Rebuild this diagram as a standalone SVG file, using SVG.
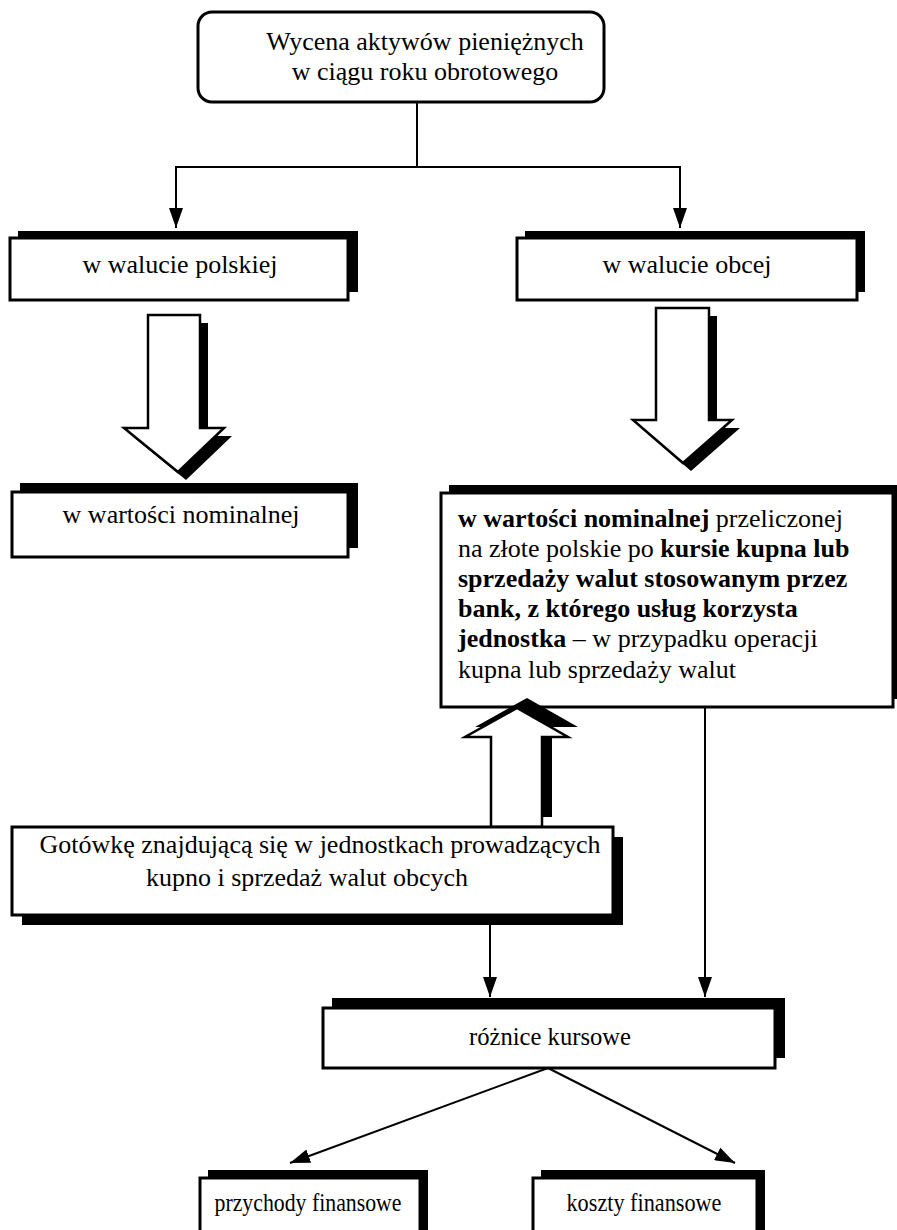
<svg xmlns="http://www.w3.org/2000/svg" width="897" height="1230" viewBox="0 0 897 1230">
  <style>
    .box { fill: #fff; stroke: #000; stroke-width: 3; }
    .shadow { fill: #000; stroke: none; }
    .blk { fill: #fff; stroke: #000; stroke-width: 2.5; stroke-linejoin: miter; }
    .line { fill: none; stroke: #000; stroke-width: 2; }
    text { font-family: "Liberation Serif", "Times New Roman", serif; font-size: 26px; fill: #000; }
    .c { text-anchor: middle; }
    .b { font-weight: bold; }
  </style>
  <defs>
    <marker id="tip" markerUnits="userSpaceOnUse" markerWidth="20" markerHeight="14" viewBox="0 0 20 14" refX="20" refY="7" orient="auto">
      <path d="M0,0 L20,7 L0,14 Z" fill="#000"/>
    </marker>
  </defs>

  <!-- connectors -->
  <g id="connectors">
    <path class="line" d="M417,102 V167 M175,167 H681"/>
    <path class="line" d="M176,167 V228" marker-end="url(#tip)"/>
    <path class="line" d="M680,167 V228" marker-end="url(#tip)"/>
    <path class="line" d="M490,925 V997" marker-end="url(#tip)"/>
    <path class="line" d="M705,707 V997" marker-end="url(#tip)"/>
    <path class="line" d="M548,1068 L290,1163" marker-end="url(#tip)"/>
    <path class="line" d="M548,1068 L735,1163" marker-end="url(#tip)"/>
  </g>

  <!-- root node -->
  <g id="n-wycena">
    <rect class="box" x="198" y="12" width="406" height="90" rx="14"/>
    <text class="c" x="425" y="50">Wycena aktywów pieniężnych</text>
    <text class="c" x="425" y="80">w ciągu roku obrotowego</text>
  </g>

  <g id="n-polska">
    <rect class="shadow" x="18" y="231" width="340" height="61"/>
    <rect class="box" x="10" y="238" width="338" height="62"/>
    <text class="c" x="180" y="273">w walucie polskiej</text>
  </g>

  <g id="n-obca">
    <rect class="shadow" x="525" y="231" width="340" height="61"/>
    <rect class="box" x="517" y="238" width="340" height="62"/>
    <text class="c" x="687" y="273">w walucie obcej</text>
  </g>

  <!-- hollow block arrow, left column -->
  <g id="a-left">
    <polygon class="shadow" points="156,323 208,323 208,436 232,436 186,480 132,436 156,436"/>
    <polygon class="blk" points="148,315 200,315 200,428 224,428 178,472 124,428 148,428"/>
  </g>

  <g id="n-nominalna">
    <rect class="shadow" x="20" y="483" width="338" height="65"/>
    <rect class="box" x="12" y="492" width="336" height="65"/>
    <text class="c" x="181" y="523">w wartości nominalnej</text>
  </g>

  <!-- hollow block arrow, right column -->
  <g id="a-right">
    <polygon class="shadow" points="664,316 717,316 717,428 740,428 691,471 641,428 664,428"/>
    <polygon class="blk" points="656,308 709,308 709,420 732,420 683,463 633,420 656,420"/>
  </g>

  <g id="n-przeliczona">
    <rect class="shadow" x="449" y="485" width="450" height="214"/>
    <rect class="box" x="441" y="493" width="452" height="214"/>
    <text x="458" y="527"><tspan class="b">w wartości nominalnej</tspan> przeliczonej</text>
    <text x="458" y="557">na złote polskie po <tspan class="b">kursie kupna lub</tspan></text>
    <text x="458" y="587" class="b">sprzedaży walut stosowanym przez</text>
    <text x="458" y="617" class="b">bank, z którego usług korzysta</text>
    <text x="458" y="647"><tspan class="b">jednostka</tspan> – w przypadku operacji</text>
    <text x="458" y="678">kupna lub sprzedaży walut</text>
  </g>

  <!-- hollow block arrow pointing up -->
  <g id="a-up">
    <polygon class="shadow" points="501,817 552,817 552,727 578,727 527,698 475,727 501,727"/>
    <polygon class="blk" points="491,827 542,827 542,737 568,737 517,708 465,737 491,737"/>
  </g>

  <g id="n-gotowka">
    <rect class="shadow" x="22" y="837" width="601" height="88"/>
    <rect class="box" x="12" y="827" width="601" height="88"/>
    <text class="c" x="320" y="853">Gotówkę znajdującą się w jednostkach prowadzących</text>
    <text class="c" x="307" y="886">kupno i sprzedaż walut obcych</text>
  </g>

  <g id="n-roznice">
    <rect class="shadow" x="332" y="998" width="453" height="60"/>
    <rect class="box" x="323" y="1008" width="452" height="60"/>
    <text class="c" x="550" y="1045" textLength="162" lengthAdjust="spacingAndGlyphs">różnice kursowe</text>
  </g>

  <g id="n-przychody">
    <rect class="shadow" x="208" y="1170" width="220" height="70"/>
    <rect class="box" x="200" y="1178" width="220" height="70"/>
    <text class="c" x="308" y="1211" textLength="187" lengthAdjust="spacingAndGlyphs">przychody finansowe</text>
  </g>

  <g id="n-koszty">
    <rect class="shadow" x="541" y="1170" width="224" height="70"/>
    <rect class="box" x="533" y="1178" width="224" height="70"/>
    <text class="c" x="644" y="1211" textLength="155" lengthAdjust="spacingAndGlyphs">koszty finansowe</text>
  </g>
</svg>
